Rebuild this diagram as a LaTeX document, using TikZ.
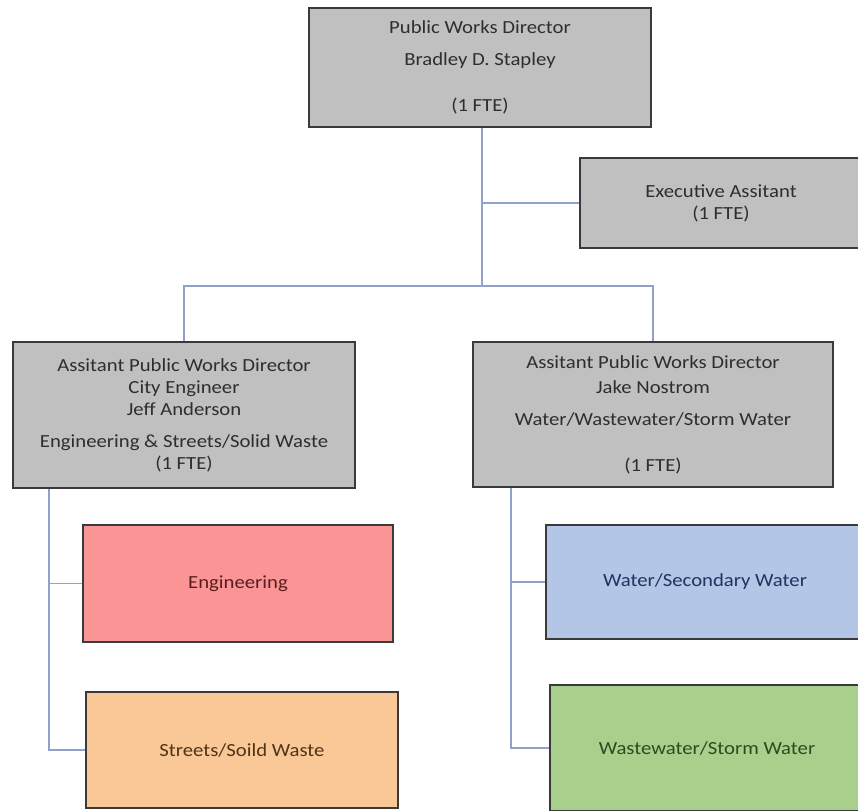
\documentclass[tikz,border=0pt]{standalone}
\usepackage{fontspec}
\setmainfont{Carlito}[FakeStretch=1.12]
\definecolor{boxgray}{HTML}{C0C0C0}
\definecolor{edge}{HTML}{3A3A3A}
\definecolor{wire}{HTML}{8FA2CC}
\definecolor{engfill}{HTML}{FA9495}
\definecolor{engtext}{HTML}{5A1E20}
\definecolor{strfill}{HTML}{FAC896}
\definecolor{strtext}{HTML}{4E3418}
\definecolor{watfill}{HTML}{B4C6E6}
\definecolor{wattext}{HTML}{1F3460}
\definecolor{wwfill}{HTML}{A8CF8C}
\definecolor{wwtext}{HTML}{2E4A20}
\begin{document}
\begin{tikzpicture}[x=1pt,y=-1pt,
  orgbox/.style={draw=edge, line width=2.6pt, rectangle, inner sep=0pt,
    align=center, font=\fontsize{18.5}{22}\selectfont},
  graybox/.style={orgbox, fill=boxgray, text=black!82},
  conn/.style={draw=wire, line width=1.6pt}]
\useasboundingbox (0,0) rectangle (858,810);
\clip (0,0) rectangle (858,810);
\fill[white] (0,0) rectangle (858,810);

% top level
\node[graybox, minimum width=342, minimum height=119] (dir) at (480,67.5)
  {Public Works Director\\[10pt]Bradley D. Stapley\\[24pt](1 FTE)};
\node[graybox, minimum width=282, minimum height=90] (exec) at (721,203)
  {Executive Assitant\\(1 FTE)};

% assistant directors
\node[graybox, minimum width=342, minimum height=146] (apl) at (184,415)
  {Assitant Public Works Director\\City Engineer\\Jeff Anderson\\[10pt]Engineering \& Streets/Solid Waste\\(1 FTE)};
\node[graybox, minimum width=360, minimum height=145] (apr) at (653,414.5)
  {Assitant Public Works Director\\[3pt]Jake Nostrom\\[10pt]Water/Wastewater/Storm Water\\[24pt](1 FTE)};

% divisions
\node[orgbox, fill=engfill, text=engtext, minimum width=310, minimum height=117] (eng) at (238,583.5) {Engineering};
\node[orgbox, fill=strfill, text=strtext, minimum width=312, minimum height=116] (str) at (242,750) {Streets/Soild Waste};
\node[orgbox, fill=watfill, text=wattext, minimum width=318, minimum height=114] (wat) at (705,582) {Water/Secondary Water};
\node[orgbox, fill=wwfill, text=wwtext, minimum width=314, minimum height=126] (ww) at (707,748) {Wastewater/Storm Water};

% junction points of the connector tree
\coordinate (j1) at (482,203);
\coordinate (j2) at (482,286);
\coordinate (lv) at (49,0);
\coordinate (rv) at (511,0);

\draw[conn] (j1 |- dir.south) -- (j2);
\draw[conn] (j1) -- (exec.west);
\draw[conn] (apl.north) -- (apl.north |- j2) -- (apr.north |- j2) -- (apr.north);
\draw[conn] (lv |- apl.south) -- (lv |- str.west) -- (str.west);
\draw[conn] (lv |- eng.west) -- (eng.west);
\draw[conn] (rv |- apr.south) -- (rv |- ww.west) -- (ww.west);
\draw[conn] (rv |- wat.west) -- (wat.west);
\end{tikzpicture}
\end{document}
